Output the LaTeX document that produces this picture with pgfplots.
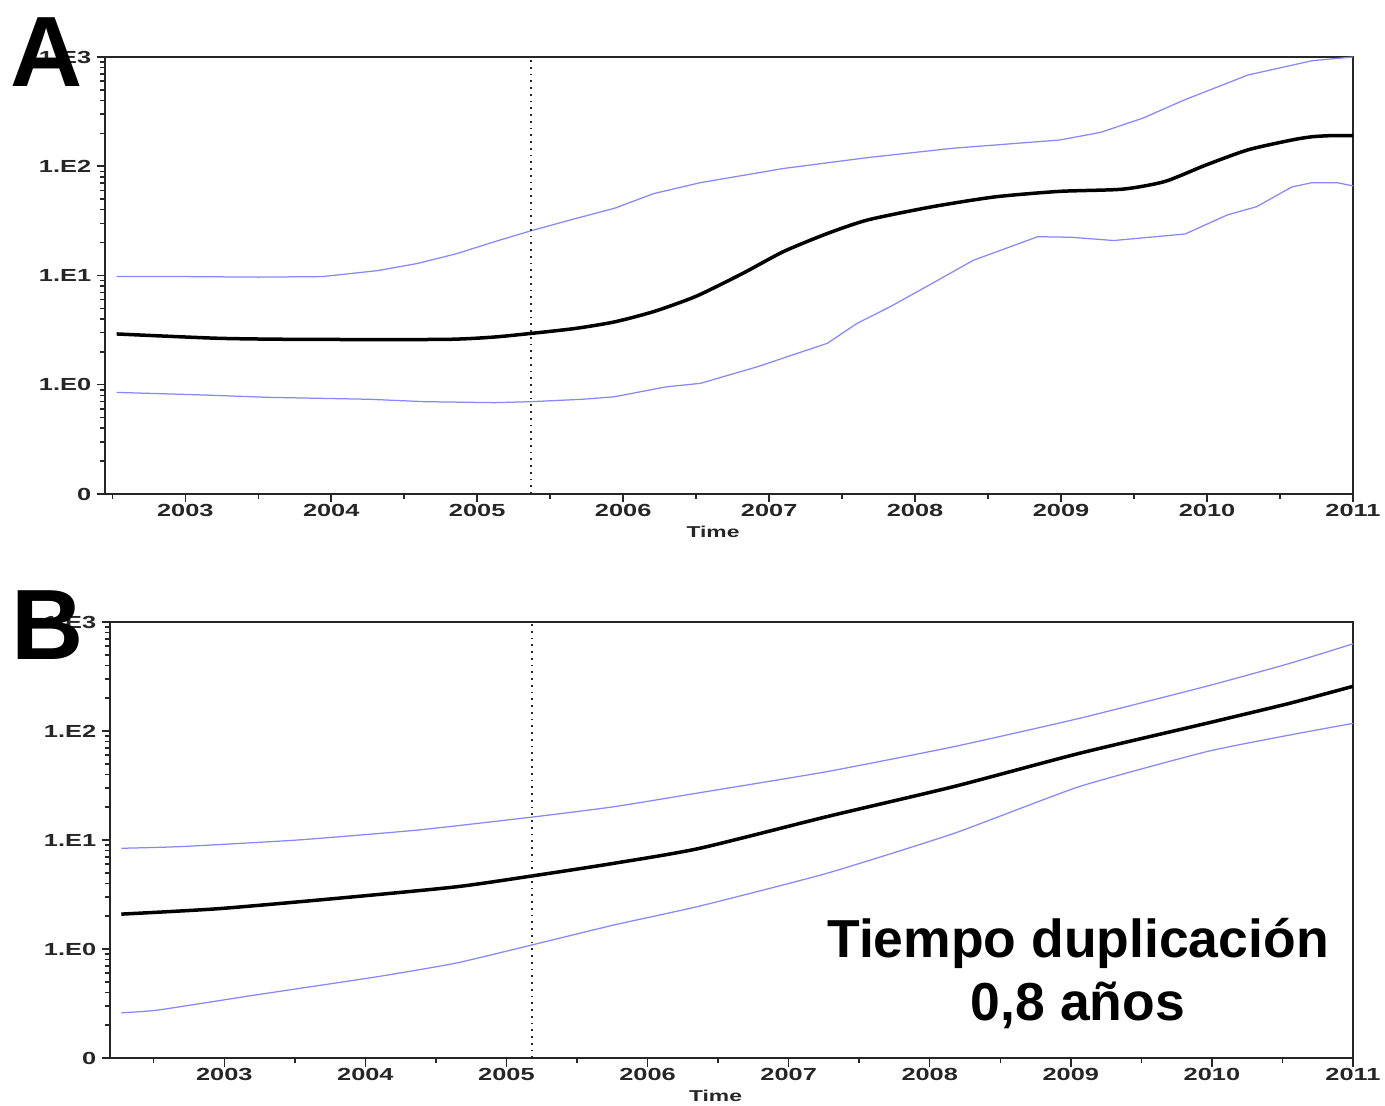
\documentclass[border=0pt]{standalone}
\usepackage{fontspec}
\setmainfont{Liberation Sans}
\newfontfamily\tickfont[FakeStretch=1.45]{Liberation Sans}
\usepackage{pgfplots}
\pgfplotsset{compat=1.18}
\definecolor{ciblue}{RGB}{135,135,255}
\pgfplotsset{myax/.style={
  scale only axis,
  axis line style={line width=0.8pt, black!85},
  tick align=outside,
  xtick pos=bottom, ytick pos=left,
  ymin=-1, ymax=3, xmax=2011,
  ytick={-1,0,1,2,3},
  yticklabels={0,1.E0,1.E1,1.E2,1.E3},
  minor ytick={-0.699,-0.523,-0.398,-0.301,-0.222,-0.155,-0.097,-0.046,
    0.301,0.477,0.602,0.699,0.778,0.845,0.903,0.954,
    1.301,1.477,1.602,1.699,1.778,1.845,1.903,1.954,
    2.301,2.477,2.602,2.699,2.778,2.845,2.903,2.954},
  xtick={2003,2004,2005,2006,2007,2008,2009,2010,2011},
  xticklabels={2003,2004,2005,2006,2007,2008,2009,2010,2011},
  minor xtick={2002.5,2003.5,2004.5,2005.5,2006.5,2007.5,2008.5,2009.5,2010.5},
  major tick length=3.4pt, minor tick length=2pt,
  every tick/.style={line width=0.6pt, black!85},
  /pgf/number format/assume math mode=true,
  tick label style={font=\tickfont\fontsize{7}{8}\selectfont\bfseries, text=black!85},
  x tick label style={yshift=2.8pt},
  y tick label style={xshift=1.4pt},
  xlabel={Time},
  xlabel style={font=\tickfont\fontsize{6.3}{7}\selectfont\bfseries, text=black!85,
    at={(axis description cs:0.5,0)}, anchor=center, yshift=-15pt, xshift=-6.4pt},
  clip=true,
}}
\begin{document}
\begin{tikzpicture}
\useasboundingbox (0,0) rectangle (554pt,442pt);
% Panel A
\begin{axis}[myax, at={(42pt,244.4pt)}, anchor=south west,
  width=499.2pt, height=174.8pt, xmin=2002.45]
\addplot[ciblue, line width=0.5pt] coordinates {
(2002.53,0.99) (2003.0,0.99) (2003.5,0.985) (2003.94,0.99) (2004.32,1.045) (2004.59,1.11)
(2004.86,1.20) (2005.12,1.31) (2005.37,1.41) (2005.67,1.52) (2005.94,1.615) (2006.21,1.75)
(2006.53,1.85) (2007.10,1.98) (2007.68,2.08) (2008.26,2.165) (2008.99,2.24) (2009.27,2.31)
(2009.56,2.44) (2009.85,2.61) (2010.28,2.835) (2010.72,2.966) (2011,3.0)};
\addplot[ciblue, line width=0.5pt] coordinates {
(2002.53,-0.07) (2002.91,-0.085) (2003.13,-0.094) (2003.56,-0.115) (2004.26,-0.133)
(2004.64,-0.155) (2005.12,-0.164) (2005.37,-0.155) (2005.72,-0.133) (2005.94,-0.11)
(2006.29,-0.02) (2006.53,0.013) (2006.92,0.165) (2007.40,0.38) (2007.60,0.56) (2007.83,0.715)
(2008.12,0.93) (2008.40,1.14) (2008.84,1.355) (2009.07,1.35) (2009.36,1.32) (2009.85,1.38)
(2010.14,1.555) (2010.34,1.63) (2010.58,1.81) (2010.72,1.85) (2010.89,1.85) (2011,1.82)};
\addplot[black, line width=1.4pt, smooth, tension=0.4] coordinates {
(2002.53,0.465) (2003.23,0.425) (2003.83,0.415) (2004.77,0.415) (2005.10,0.435) (2005.37,0.47)
(2005.67,0.515) (2005.94,0.575) (2006.21,0.67) (2006.50,0.81) (2006.82,1.02) (2007.10,1.22)
(2007.40,1.385) (2007.68,1.51) (2008.12,1.63) (2008.55,1.72) (2008.99,1.77) (2009.42,1.79)
(2009.71,1.86) (2009.99,2.01) (2010.28,2.15) (2010.58,2.24) (2010.72,2.27) (2010.85,2.28) (2011,2.28)};
\addplot[black!85, line width=0.7pt, dotted] coordinates {(2005.37,-1) (2005.37,3)};
\end{axis}
% Panel B
\begin{axis}[myax, at={(44pt,18.8pt)}, anchor=south west,
  width=497.2pt, height=174.4pt, xmin=2002.19]
\addplot[ciblue, line width=0.5pt, smooth, tension=0.3] coordinates {
(2002.27,0.924) (2002.70,0.94) (2003.52,1.0) (2004.36,1.09) (2005.18,1.21) (2005.76,1.305)
(2006.37,1.434) (2007.27,1.627) (2008.17,1.856) (2009.06,2.116) (2009.96,2.41) (2010.55,2.62) (2011,2.80)};
\addplot[ciblue, line width=0.5pt, smooth, tension=0.3] coordinates {
(2002.27,-0.585) (2002.53,-0.56) (2003.23,-0.42) (2004.08,-0.255) (2004.64,-0.13) (2005.18,0.037)
(2005.76,0.22) (2006.37,0.394) (2007.27,0.694) (2008.17,1.06) (2009.06,1.49) (2009.96,1.81)
(2010.55,1.963) (2011,2.07)};
\addplot[black, line width=1.4pt, smooth, tension=0.4] coordinates {
(2002.27,0.32) (2002.96,0.37) (2003.80,0.465) (2004.64,0.57) (2005.18,0.67) (2005.76,0.786)
(2006.37,0.924) (2007.27,1.214) (2008.17,1.49) (2009.06,1.795) (2009.96,2.07) (2010.55,2.254) (2011,2.41)};
\addplot[black!85, line width=0.7pt, dotted] coordinates {(2005.18,-1) (2005.18,3)};
\end{axis}
\node[inner sep=0, font=\fontsize{40}{40}\selectfont\bfseries] at (18.8pt,421pt) {A};
\node[inner sep=0, font=\fontsize{40}{40}\selectfont\bfseries] at (19pt,192pt) {B};
\node[align=center, inner sep=0, font=\fontsize{21.4}{25.2}\selectfont\bfseries] at (431.2pt,52.6pt) {Tiempo duplicación\\0,8 años};
\end{tikzpicture}
\end{document}
